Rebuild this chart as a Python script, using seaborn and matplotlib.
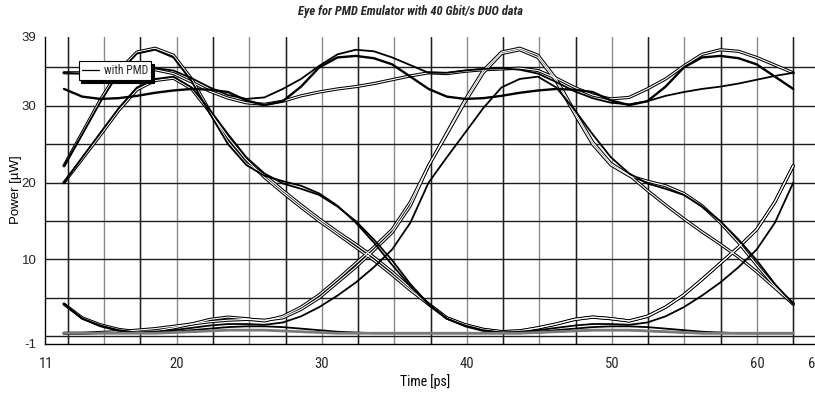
import numpy as np
import pandas as pd
import matplotlib
matplotlib.use("Agg")
import matplotlib.pyplot as plt
from matplotlib.lines import Line2D
from matplotlib import font_manager as fm
import seaborn as sns

# ---------------- data ----------------
time_ps = [12.23, 13.49, 14.74, 16.00, 17.26, 18.51, 19.77, 21.03, 22.28, 23.54,
           24.80, 26.05, 27.31, 28.57, 29.82, 31.08, 32.34, 33.59, 34.85, 36.11,
           37.36, 38.62, 39.88, 41.13, 42.39, 43.65, 44.90, 46.16, 47.42, 48.67,
           49.93, 51.19, 52.44, 53.70, 54.96, 56.21, 57.47, 58.73, 59.98, 61.24,
           62.50]

# one bit slot (25 ps) of each visible trace segment, power in uW
rise_fast_fall_straight = [22.2, 26.5, 30.8, 34.6, 37.0, 37.5, 36.6, 33.5, 29.3, 25.3, 22.5,
                           21.0, 19.0, 17.1, 15.3, 13.6, 12.0, 10.3, 8.4, 6.3, 4.2]
rise_fast_fall_shoulder = [22.2, 26.3, 30.5, 34.3, 36.8, 37.3, 36.3, 33.2, 29.0, 25.0, 22.3,
                           20.9, 20.2, 19.6, 18.6, 17.0, 14.8, 12.2, 9.3, 6.5, 4.2]
rise_slow_fall_shoulder = [20.0, 23.3, 26.5, 29.7, 32.4, 33.5, 33.8, 32.4, 29.5, 26.3, 23.3,
                           21.2, 19.9, 19.2, 18.4, 16.9, 15.0, 12.6, 9.9, 6.8, 4.2]
rise_slow_fall_straight = [20.0, 23.1, 26.2, 29.4, 32.1, 33.3, 33.6, 32.2, 29.2, 25.9, 23.0,
                           20.7, 18.7, 16.8, 15.0, 13.3, 11.6, 9.9, 8.0, 6.0, 4.2]
high_hump_upper = [34.3, 34.2, 34.5, 34.7, 34.8, 34.9, 34.6, 33.6, 32.4, 31.4, 30.9,
                   31.1, 32.2, 33.5, 35.2, 36.7, 37.3, 37.1, 36.3, 35.3, 34.3]
mid_hump_lower = [32.2, 31.2, 30.9, 31.0, 31.3, 31.7, 32.0, 32.2, 32.1, 31.8, 30.7,
                  30.1, 30.6, 32.5, 35.0, 36.3, 36.5, 36.2, 35.4, 33.8, 32.2]
high_gentle = [34.3, 34.3, 34.6, 34.8, 34.9, 34.7, 34.2, 33.1, 31.9, 31.0, 30.4,
               30.2, 30.6, 31.3, 31.8, 32.2, 32.5, 32.9, 33.4, 33.9, 34.3]
fall_hump_rise_fast = [4.2, 2.4, 1.5, 0.9, 0.6, 0.7, 1.1, 1.6, 2.2, 2.5, 2.3,
                       2.0, 2.6, 3.8, 5.4, 7.4, 9.5, 11.6, 13.9, 17.5, 22.2]
fall_hump_rise_slow = [4.2, 2.3, 1.4, 0.8, 0.5, 0.6, 0.8, 1.1, 1.4, 1.6, 1.6,
                       1.5, 1.8, 2.6, 3.8, 5.3, 7.0, 9.0, 11.3, 14.8, 20.0]
fall_to_low = [4.2, 2.3, 1.3, 0.7, 0.5, 0.5, 0.6, 0.8, 1.0, 1.2, 1.3,
               1.3, 1.2, 1.0, 0.8, 0.6, 0.5, 0.4, 0.4, 0.4, 0.4]
low_flat = [0.4, 0.4, 0.4, 0.4, 0.4, 0.4, 0.5, 0.6, 0.7, 0.8, 0.8,
            0.8, 0.7, 0.6, 0.5, 0.4, 0.4, 0.4, 0.4, 0.4, 0.4]
low_rise_fast = [0.4, 0.4, 0.5, 0.6, 0.8, 1.0, 1.3, 1.6, 1.9, 2.1, 2.2,
                 2.1, 2.4, 3.5, 5.0, 7.0, 9.0, 11.2, 13.5, 17.0, 22.2]

# each trace spans two bit slots: (first slot, second slot, drawing style)
trace_parts = [
    (rise_fast_fall_straight, fall_hump_rise_fast, "hollow"),
    (rise_fast_fall_shoulder, fall_hump_rise_slow, "solid"),
    (rise_slow_fall_shoulder, fall_to_low, "solid"),
    (rise_slow_fall_straight, fall_hump_rise_fast, "hollow"),
    (fall_hump_rise_fast, rise_fast_fall_straight, "hollow"),
    (fall_hump_rise_slow, rise_slow_fall_shoulder, "solid"),
    (fall_to_low, low_flat, "solid"),
    (low_flat, low_flat, "gray"),
    (low_rise_fast, rise_fast_fall_shoulder, "hollow"),
    (high_hump_upper, high_gentle, "solid"),
    (high_gentle, high_hump_upper, "hollow"),
    (mid_hump_lower, mid_hump_lower, "thick"),
]

rows = []
for i, (a, b, st) in enumerate(trace_parts):
    vals = list(a) + list(b)[1:]
    for t, p in zip(time_ps, vals):
        rows.append({"time": t, "power": p, "trace": i, "style": st})
df = pd.DataFrame(rows)

# ---------------- fonts ----------------
sns.set_theme(style="white")
avail = {f.name for f in fm.fontManager.ttflist}
def pick(*names):
    for n in names:
        if n in avail:
            return n
    return "DejaVu Sans"
regular = pick("Liberation Sans", "Arial", "DejaVu Sans")
narrow = pick("Liberation Sans Narrow", "Roboto Condensed", "Liberation Sans")
plt.rcParams["font.family"] = [regular, "DejaVu Sans"]
narrow_scale = 1.0 if narrow != regular else 0.85

W, H = 815, 394
fig = plt.figure(figsize=(W / 100, H / 100), dpi=100)
ax = fig.add_axes([44.7 / W, 50 / H, (815 - 44.7) / W, (344 - 36.7) / H])
ax.set_xlim(10.9, 64.0)
ax.set_ylim(-1, 39)

# grid
ax.set_xticks([11, 20, 30, 40, 50, 60, 64])
ax.set_xticklabels(["11", "20", "30", "40", "50", "60", "64"])
ax.set_xticks(np.arange(12.5, 63.0, 2.5), minor=True)
ax.set_yticks([-1, 10, 20, 30, 39])
ax.set_yticklabels(["-1", "10", "20", "30", "39"])
ax.set_yticks(np.arange(0, 36, 5), minor=True)
ax.xaxis.remove_overlapping_locs = False
ax.yaxis.remove_overlapping_locs = False
ax.grid(False)
ax.grid(axis="x", which="minor", color="#8a8a8a", lw=1.0)
ax.grid(axis="y", which="minor", color="#1e1e1e", lw=1.0)
for xv in np.arange(12.5, 63.0, 5.0):
    ax.axvline(xv, color="#1e1e1e", lw=1.0, zorder=0.6)
ax.set_axisbelow(True)

for s in ["top", "right"]:
    ax.spines[s].set_visible(False)
for s in ["left", "bottom"]:
    ax.spines[s].set_color("black")
    ax.spines[s].set_linewidth(1.0)
ax.tick_params(which="both", direction="out", length=4, width=0.8, color="black")
ax.tick_params(axis="x", which="major", pad=5)
ax.tick_params(axis="y", which="major", pad=2)
for lab in ax.get_xticklabels():
    lab.set_fontfamily([narrow, "DejaVu Sans"])
    lab.set_fontsize(10.5 * narrow_scale)
for lab in ax.get_yticklabels():
    lab.set_fontfamily([regular, "DejaVu Sans"])
    lab.set_fontsize(9.5)

# traces
styles = {
    "hollow": [("black", 2.3), ("white", 0.8)],
    "solid": [("black", 1.3)],
    "thick": [("black", 1.7)],
    "gray": [("#7a7a7a", 2.0)],
}
for st, layers in styles.items():
    sub = df[df["style"] == st]
    for col, lw in layers:
        sns.lineplot(data=sub, x="time", y="power", units="trace", estimator=None,
                     sort=False, color=col, lw=lw, ax=ax, legend=False, zorder=2)

ax.set_xlabel("Time [ps]", fontfamily=[narrow, "DejaVu Sans"], fontsize=10 * narrow_scale, color="black")
ax.xaxis.set_label_coords((425 - 44.7) / 770.3, (344 - 374) / 307.3)
ax.set_ylabel("Power [µW]", fontfamily=[regular, "DejaVu Sans"], fontsize=9.5, color="black")
ax.yaxis.set_label_coords((22 - 44.7) / 770.3, (344 - 190) / 307.3)

fig.text(411 / W, 1 - 11 / H, "Eye for PMD Emulator with 40 Gbit/s DUO data",
         ha="center", va="center", style="italic", weight="bold",
         fontfamily=[narrow, "DejaVu Sans"], fontsize=9 * narrow_scale)

handle = Line2D([0], [0], color="black", lw=0.9)
leg = ax.legend([handle], ["with PMD"], loc="upper left",
                bbox_to_anchor=(78.7 / W, 1 - 60.7 / H), bbox_transform=fig.transFigure,
                borderaxespad=0, frameon=True, fancybox=False, framealpha=1,
                edgecolor="black", facecolor="white",
                shadow={"ox": 2, "oy": -2.2, "color": "black", "alpha": 1},
                borderpad=0.25, handlelength=1.5, handletextpad=0.4,
                prop={"family": [narrow, "DejaVu Sans"], "size": 8.5 * narrow_scale})
leg.get_frame().set_linewidth(0.8)
leg.set_zorder(5)

fig.savefig("out.png", dpi=100)
